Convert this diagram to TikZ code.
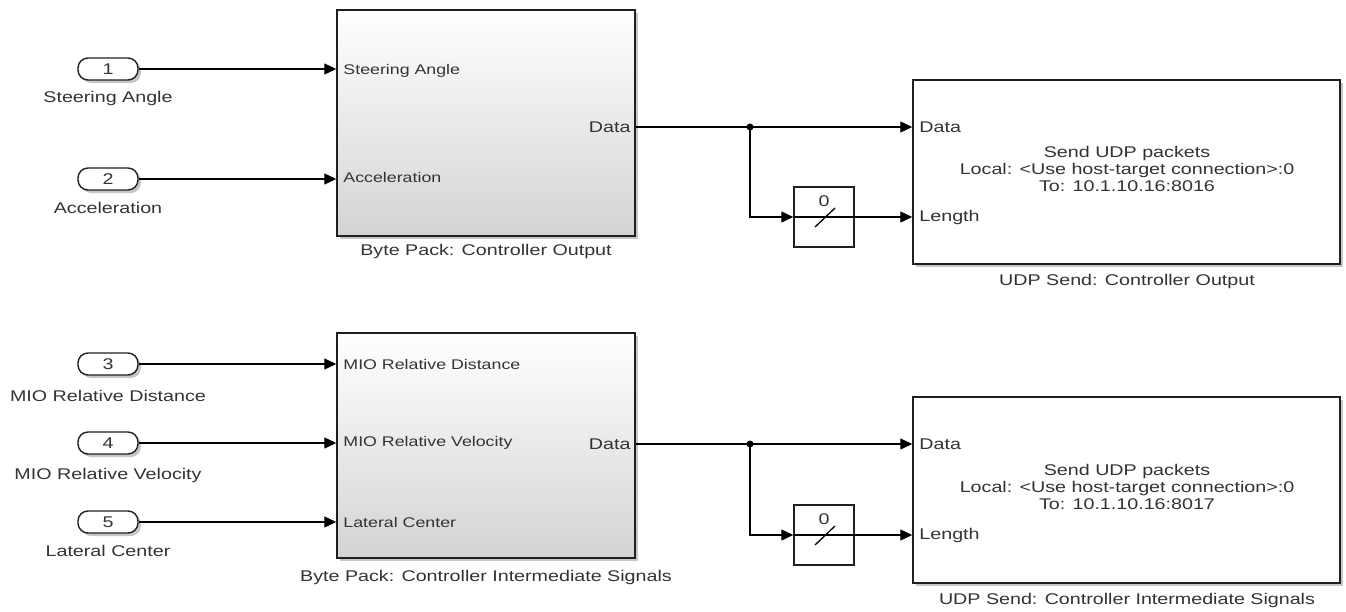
\documentclass[tikz,border=0pt]{standalone}
\usepackage{fontspec}
\setmainfont{Liberation Sans}[FakeStretch=1.27]
\definecolor{txtgray}{rgb}{0.20,0.20,0.20}
\definecolor{edgegray}{gray}{0.12}
\definecolor{shadegray}{gray}{0.83}
\usetikzlibrary{arrows.meta,positioning,shadows}
\tikzset{
  sig/.style={line width=1.3pt,-{Triangle[length=12pt,width=11pt]}},
  wire/.style={line width=1.3pt},
  softshadow/.style={drop shadow={shadow xshift=3pt,shadow yshift=-3pt,opacity=0.22,fill=black}},
  inport/.style={draw=edgegray,line width=1.4pt,fill=white,rounded corners=10pt,
    minimum width=60pt,minimum height=22pt,inner sep=0pt,text=txtgray,softshadow},
  packblk/.style={draw=edgegray,line width=1.5pt,top color=white,bottom color=shadegray,
    minimum width=298pt,inner sep=0pt,softshadow},
  udpblk/.style={draw=edgegray,line width=1.5pt,fill=white,minimum width=427pt,
    inner sep=0pt,softshadow},
  widthblk/.style={draw=edgegray,line width=1.5pt,fill=white,minimum width=60pt,
    minimum height=60pt,inner sep=0pt},
  jdot/.style={circle,fill=black,inner sep=0pt,minimum size=7pt},
  plab/.style={text=txtgray,inner sep=0pt},
  inlab/.style={plab,anchor=west,font=\fontsize{14pt}{16pt}\selectfont},
}
\begin{document}
\begin{tikzpicture}[x=1pt,y=-1pt,font=\fontsize{15.5pt}{17pt}\selectfont]
  \useasboundingbox (0,0) rectangle (1346,611);
  % --- top: controller output ---
  \node[inport] (in1) at (108,69) {1};
  \node[plab] at (108,98) {Steering Angle};
  \node[inport] (in2) at (108,179) {2};
  \node[plab] at (108,208) {Acceleration};
  \node[packblk,minimum height=226pt] (bp1) at (486,123) {};
  \node[plab] at (486,251) {Byte Pack: Controller Output};
  \node[inlab] at ([xshift=7pt,yshift=-2pt]bp1.west |- in1) {Steering Angle};
  \node[inlab] at ([xshift=7pt,yshift=2pt]bp1.west |- in2) {Acceleration};
  \coordinate (bp1o) at (bp1.east |- 0,127);
  \node[plab,anchor=east] at ([xshift=-5pt]bp1o) {Data};
  \draw[sig] (in1.east) -- (in1.east -| bp1.west);
  \draw[sig] (in2.east) -- (in2.east -| bp1.west);

  \node[udpblk,minimum height=184pt] (udp1) at (1126.5,172) {};
  \node[plab,align=center] at (1127,169) {Send UDP packets\\Local: <Use host-target connection>:0\\To: 10.1.10.16:8016};
  \node[plab] at (1127,281) {UDP Send: Controller Output};
  \node[widthblk] (wd1) at (824,217) {};
  \node[jdot] (j1) at (750,127) {};
  \draw[sig] (bp1o) -- (bp1o -| udp1.west);
  \draw[sig] (j1.center) |- (wd1.west);
  \draw[sig] (wd1.east) -- (wd1.east -| udp1.west);
  \draw[wire] (wd1.west) -- (wd1.east);
  \draw[wire] ([shift={(-9pt,-10pt)}]wd1.center) -- ([shift={(11pt,9pt)}]wd1.center);
  \node[plab] at ([yshift=16pt]wd1.center) {0};
  \node[plab,anchor=west] at ([xshift=7pt]udp1.west |- bp1o) {Data};
  \node[plab,anchor=west] at ([xshift=7pt]udp1.west |- wd1) {Length};

  % --- bottom: intermediate signals ---
  \node[inport] (in3) at (108,364) {3};
  \node[plab] at (108,396) {MIO Relative Distance};
  \node[inport] (in4) at (108,443) {4};
  \node[plab] at (108,475) {MIO Relative Velocity};
  \node[inport] (in5) at (108,522) {5};
  \node[plab] at (108,551) {Lateral Center};
  \node[packblk,minimum height=225pt] (bp2) at (486,445.5) {};
  \node[plab] at (486,577) {Byte Pack: Controller Intermediate Signals};
  \node[inlab] at ([xshift=7pt]bp2.west |- in3) {MIO Relative Distance};
  \node[inlab] at ([xshift=7pt]bp2.west |- in4) {MIO Relative Velocity};
  \node[inlab] at ([xshift=7pt]bp2.west |- in5) {Lateral Center};
  \coordinate (bp2o) at (bp2.east |- 0,444);
  \node[plab,anchor=east] at ([xshift=-5pt]bp2o) {Data};
  \draw[sig] (in3.east) -- (in3.east -| bp2.west);
  \draw[sig] (in4.east) -- (in4.east -| bp2.west);
  \draw[sig] (in5.east) -- (in5.east -| bp2.west);

  \node[udpblk,minimum height=186pt] (udp2) at (1126.5,490) {};
  \node[plab,align=center] at (1127,487) {Send UDP packets\\Local: <Use host-target connection>:0\\To: 10.1.10.16:8017};
  \node[plab] at (1127,600) {UDP Send: Controller Intermediate Signals};
  \node[widthblk] (wd2) at (824,535) {};
  \node[jdot] (j2) at (750,444) {};
  \draw[sig] (bp2o) -- (bp2o -| udp2.west);
  \draw[sig] (j2.center) |- (wd2.west);
  \draw[sig] (wd2.east) -- (wd2.east -| udp2.west);
  \draw[wire] (wd2.west) -- (wd2.east);
  \draw[wire] ([shift={(-9pt,-10pt)}]wd2.center) -- ([shift={(11pt,9pt)}]wd2.center);
  \node[plab] at ([yshift=16pt]wd2.center) {0};
  \node[plab,anchor=west] at ([xshift=7pt]udp2.west |- bp2o) {Data};
  \node[plab,anchor=west] at ([xshift=7pt]udp2.west |- wd2) {Length};
\end{tikzpicture}
\end{document}
